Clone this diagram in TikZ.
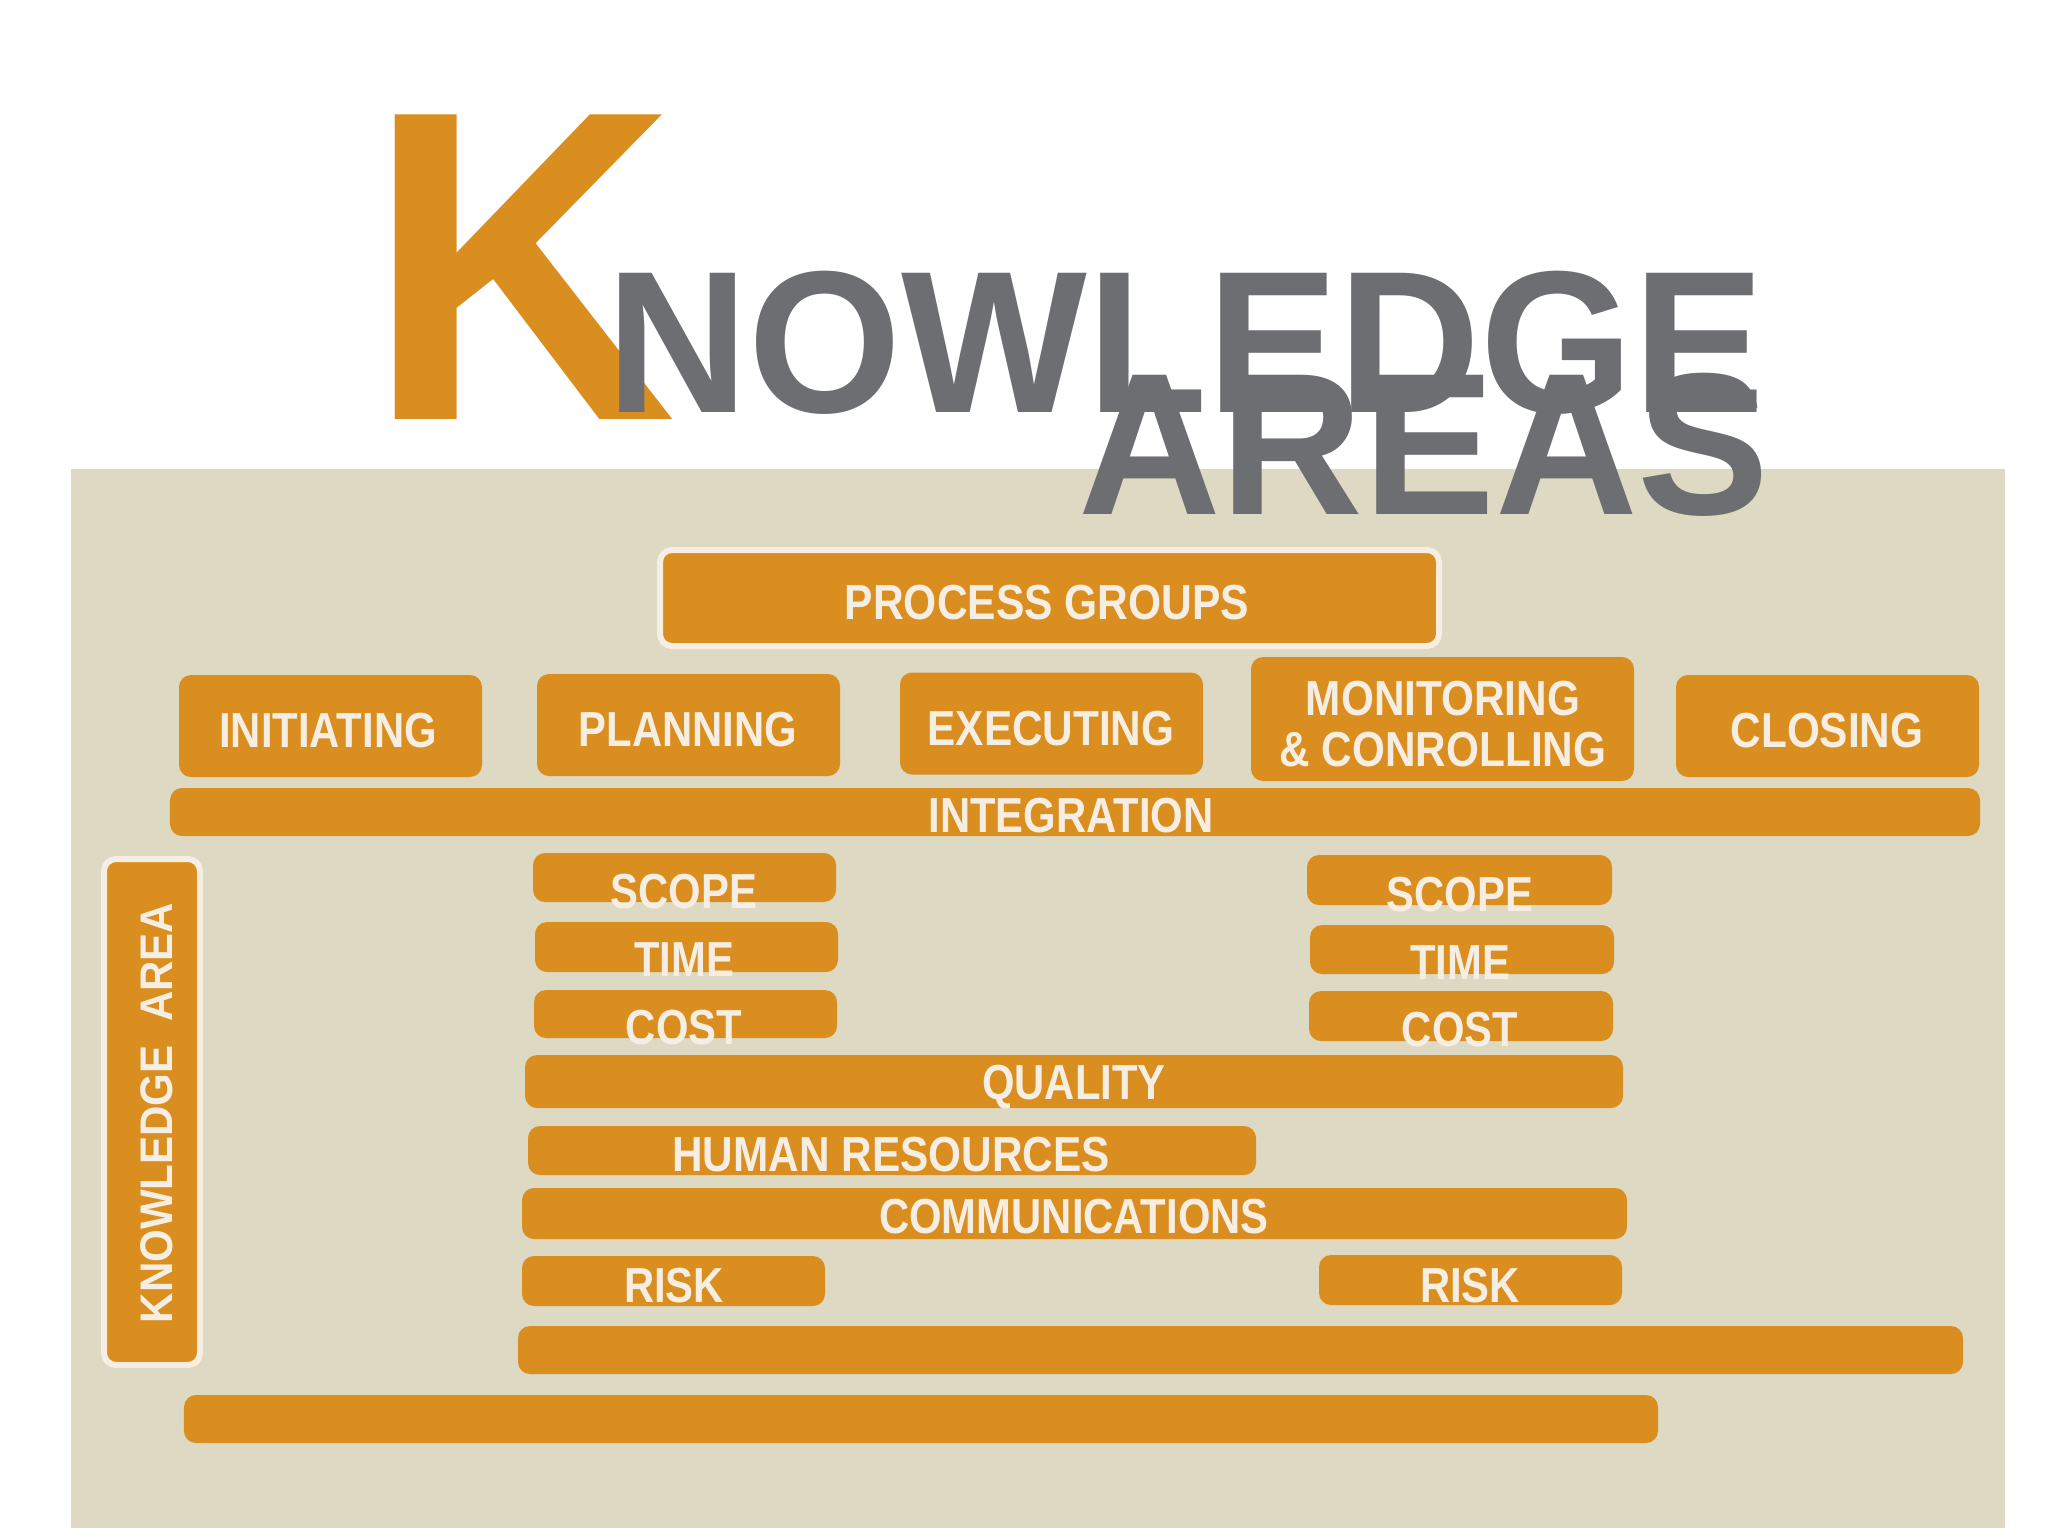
\documentclass[tikz,border=0pt]{standalone}
\usepackage{fontspec}
\setmainfont{Liberation Sans}
\definecolor{korange}{HTML}{D98E1F}
\definecolor{kbeige}{HTML}{DDD9C3}
\definecolor{kgray}{HTML}{6D6E71}
\definecolor{kcream}{HTML}{F6EEE3}
\newcommand\narrowtxt[2][0.85]{\scalebox{#1}[1]{#2}}
\begin{document}
\begin{tikzpicture}[x=1mm,y=-1mm,
	kbox/.style={fill=korange,rounded corners=1.2mm,inner sep=0},
	kframed/.style={kbox,draw=kcream,line width=0.6mm},
	lbl/.style={text=kcream,inner sep=0,font=\fontsize{14}{14.5}\selectfont\bfseries},
	title/.style={text=kgray,inner sep=0,anchor=base west,font=\fontsize{57.6}{57.6}\selectfont\bfseries}]
	\useasboundingbox (0,0) rectangle (204.8,153.6);
	\fill[white] (0,0) rectangle (204.8,153.6);
	\fill[kbeige] (7.05,46.9) rectangle (200.5,152.8);
	% title
	\node[title,text=korange,font=\fontsize{126}{126}\selectfont\bfseries] (bigk) at (36.6,41.9) {\scalebox{0.97}[1]{K}};
	\node[title] (nowledge) at (60.55,41.25) {\scalebox{0.972}[1]{NOWLEDGE}};
	\node[title] (areas) at (107.75,51.4) {\scalebox{0.976}[1]{AREAS}};
	% process groups
	\node[kframed,minimum width=77.9mm,minimum height=9.6mm] (pgroups) at (104.95,59.8) {};
	\node[lbl] (pgroupsL) at (104.7,60.3) {\narrowtxt[0.865]{PROCESS GROUPS}};
	\node[kbox,minimum width=30.3mm,minimum height=10.2mm] (init) at (33.05,72.6) {};
	\node[lbl] (initL) at (32.8,73.1) {\narrowtxt{INITIATING}};
	\node[kbox,minimum width=30.3mm,minimum height=10.2mm] (plan) at (68.85,72.5) {};
	\node[lbl] (planL) at (68.8,73.0) {\narrowtxt{PLANNING}};
	\node[kbox,minimum width=30.3mm,minimum height=10.2mm] (exec) at (105.15,72.35) {};
	\node[lbl] (execL) at (105.1,72.9) {\narrowtxt[0.86]{EXECUTING}};
	\node[kbox,minimum width=38.3mm,minimum height=12.4mm] (monit) at (144.25,71.9) {};
	\node[lbl] (monitA) at (144.3,69.9) {\narrowtxt[0.86]{MONITORING}};
	\node[lbl] (monitB) at (144.3,75.0) {\narrowtxt[0.86]{\& CONROLLING}};
	\node[kbox,minimum width=30.3mm,minimum height=10.2mm] (close) at (182.75,72.6) {};
	\node[lbl] (closeL) at (182.7,73.1) {\narrowtxt[0.86]{CLOSING}};
	% knowledge areas
	\node[kbox,minimum width=181mm,minimum height=4.8mm] (integ) at (107.5,81.2) {};
	\node[lbl] (integL) at (107.1,81.6) {\narrowtxt{INTEGRATION}};
	\node[kframed,minimum width=9.6mm,minimum height=50.6mm] (karea) at (15.2,111.2) {};
	\node[lbl,rotate=90,font=\fontsize{13}{13}\selectfont\bfseries] (kareaL) at (15.7,111.3) {\narrowtxt[0.92]{KNOWLEDGE\ \ AREA}};
	\node[kbox,minimum width=30.3mm,minimum height=4.9mm] (scopeA) at (68.45,87.75) {};
	\node[lbl] (scopeAL) at (68.4,89.2) {\narrowtxt{SCOPE}};
	\node[kbox,minimum width=30.3mm,minimum height=5mm] (timeA) at (68.65,94.7) {};
	\node[lbl] (timeAL) at (68.4,96.0) {\narrowtxt{TIME}};
	\node[kbox,minimum width=30.3mm,minimum height=4.8mm] (costA) at (68.55,101.4) {};
	\node[lbl] (costAL) at (68.4,102.8) {\narrowtxt{COST}};
	\node[kbox,minimum width=30.5mm,minimum height=5mm] (scopeB) at (145.95,88.0) {};
	\node[lbl] (scopeBL) at (146.0,89.5) {\narrowtxt{SCOPE}};
	\node[kbox,minimum width=30.4mm,minimum height=4.9mm] (timeB) at (146.2,94.95) {};
	\node[lbl] (timeBL) at (146.0,96.3) {\narrowtxt{TIME}};
	\node[kbox,minimum width=30.4mm,minimum height=5mm] (costB) at (146.1,101.6) {};
	\node[lbl] (costBL) at (146.0,103.0) {\narrowtxt{COST}};
	\node[kbox,minimum width=109.8mm,minimum height=5.3mm] (quality) at (107.4,108.15) {};
	\node[lbl] (qualityL) at (107.4,108.7) {\narrowtxt{QUALITY}};
	\node[kbox,minimum width=72.8mm,minimum height=4.9mm] (human) at (89.2,115.05) {};
	\node[lbl] (humanL) at (89.1,115.5) {\narrowtxt[0.86]{HUMAN RESOURCES}};
	\node[kbox,minimum width=110.5mm,minimum height=5.1mm] (comm) at (107.45,121.35) {};
	\node[lbl] (commL) at (107.4,121.7) {\narrowtxt{COMMUNICATIONS}};
	\node[kbox,minimum width=30.3mm,minimum height=5mm] (riskA) at (67.35,128.1) {};
	\node[lbl] (riskAL) at (67.4,128.6) {\narrowtxt{RISK}};
	\node[kbox,minimum width=30.3mm,minimum height=5mm] (riskB) at (147.05,128.0) {};
	\node[lbl] (riskBL) at (147.0,128.6) {\narrowtxt{RISK}};
	\node[kbox,minimum width=144.5mm,minimum height=4.8mm] (barA) at (124.05,135.0) {};
	\node[kbox,minimum width=147.4mm,minimum height=4.8mm] (barB) at (92.1,141.9) {};
\end{tikzpicture}
\end{document}
